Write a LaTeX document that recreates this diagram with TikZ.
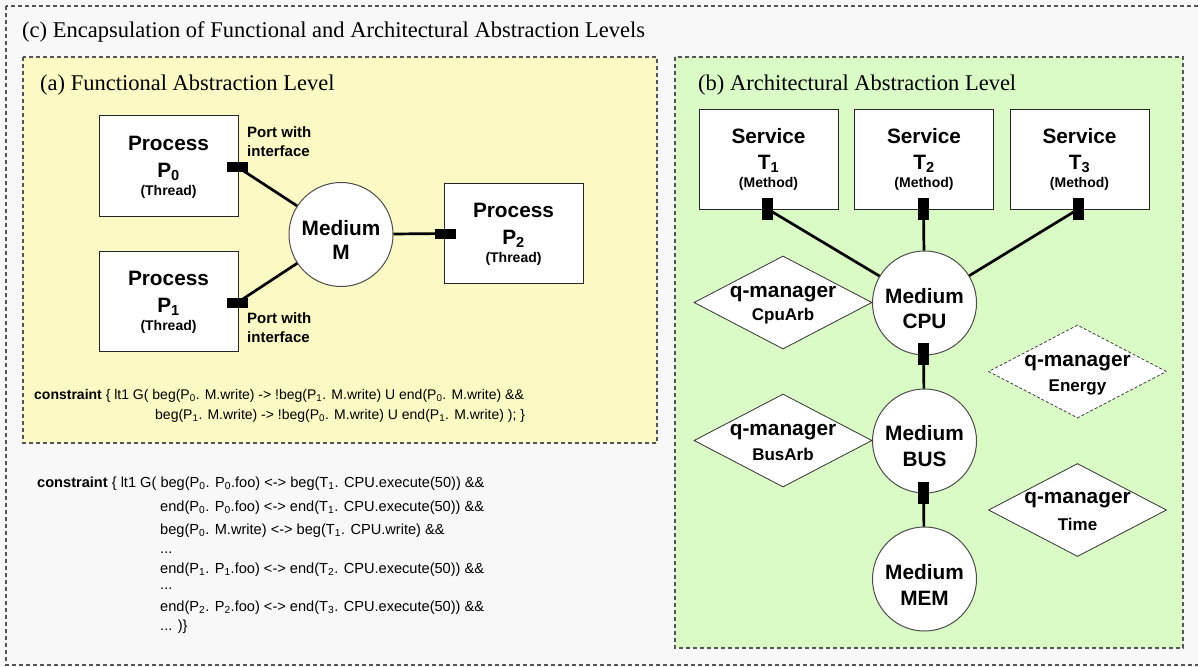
\documentclass[tikz,border=0pt]{standalone}
\usepackage{fontspec}
\setmainfont{Liberation Serif}
\setsansfont{Liberation Sans}
\usetikzlibrary{shapes.geometric}
\definecolor{bgc}{HTML}{F8F8F8}
\definecolor{yel}{HTML}{FBFAC5}
\definecolor{grn}{HTML}{DAFAC6}
\definecolor{dashc}{HTML}{555555}
\newcommand\sbs[1]{\textsubscript{#1}}
\tikzset{
  frame/.style={draw=dashc, line width=1.1pt, dash pattern=on 4pt off 3pt},
  ttl/.style={font=\fontsize{22.5}{24}\selectfont, anchor=west, inner sep=0},
  box/.style={rectangle, draw=black!85, fill=white, line width=1pt, minimum width=139pt, minimum height=100pt, inner sep=0},
  circ/.style={circle, draw=black!70, fill=white, line width=1pt, minimum size=104pt, inner sep=0},
  qm/.style={diamond, draw=black!80, fill=white, line width=0.8pt, minimum width=178pt, minimum height=93pt, inner sep=0},
  qmd/.style={qm, draw=black!75, dash pattern=on 3pt off 2pt},
  hport/.style={rectangle, fill=black, inner sep=0, minimum width=21pt, minimum height=10pt},
  vport/.style={rectangle, fill=black, inner sep=0, minimum width=11pt, minimum height=22pt},
  conn/.style={line width=2.7pt, black},
  big/.style={font=\sffamily\bfseries\fontsize{20.8}{22}\selectfont, inner sep=0},
  small/.style={font=\sffamily\bfseries\fontsize{14}{16}\selectfont, inner sep=0},
  mid/.style={font=\sffamily\bfseries\fontsize{17}{19}\selectfont, inner sep=0},
  plbl/.style={font=\sffamily\bfseries\fontsize{15}{19}\selectfont, inner sep=0, anchor=west, align=left},
  code/.style={font=\sffamily\fontsize{14.6}{17}\selectfont, inner sep=0, anchor=base west},
  codea/.style={code, font=\sffamily\fontsize{14}{17}\selectfont},
}
\begin{document}
\begin{tikzpicture}[x=1pt,y=-1pt]
\useasboundingbox (0,0) rectangle (1198,666);
\clip (0,0) rectangle (1198,666);
\fill[bgc] (0,0) rectangle (1198,666);
% frames
\draw[frame] (6,6) rectangle (1210,665);
\draw[frame, fill=yel] (23,57) rectangle (657,443);
\draw[frame, fill=grn] (675,57) rectangle (1183,648);
\node[ttl] (tc) at (22,32) {(c) Encapsulation of Functional and Architectural Abstraction Levels};
\node[ttl] (ta) at (40,85) {(a) Functional Abstraction Level};
\node[ttl] (tb) at (698,85) {(b) Architectural Abstraction Level};

% (a) functional level
\node[box] (p0) at (168.5,166) {};
\node[big] (p0a) at ([yshift=23pt]p0.center) {Process};
\node[big] (p0b) at ([yshift=-6pt]p0.center) {P\sbs{0}};
\node[small] (p0c) at ([yshift=-26pt]p0.center) {(Thread)};
\node[box] (p1) at (168.5,301) {};
\node[big] (p1a) at ([yshift=23pt]p1.center) {Process};
\node[big] (p1b) at ([yshift=-6pt]p1.center) {P\sbs{1}};
\node[small] (p1c) at ([yshift=-26pt]p1.center) {(Thread)};
\node[box] (p2) at (513.5,233) {};
\node[big] (p2a) at ([yshift=23pt]p2.center) {Process};
\node[big] (p2b) at ([yshift=-6pt]p2.center) {P\sbs{2}};
\node[small] (p2c) at ([yshift=-26pt]p2.center) {(Thread)};

\node[circ] (m) at (341,234.5) {};
\node[big] (ma) at ([yshift=6.5pt]m.center) {Medium};
\node[big] (mb) at ([yshift=-17.5pt]m.center) {M};

\node[hport] (pp0) at (237.5,167) {};
\node[hport] (pp1) at (237.5,302.5) {};
\node[hport] (pp2) at (445,233.5) {};
\draw[conn] (pp0.center) -- (m);
\draw[conn] (pp1.center) -- (m);
\draw[conn] (pp2.center) -- (m);

\node[plbl] (l0) at (247,141.5) {Port with\\interface};
\node[plbl] (l1) at (247,327.5) {Port with\\interface};

\node[codea] (ca1) at (34,399.5) {\textbf{constraint} \{ lt1 G( beg(P\sbs{0}. M.write) -> !beg(P\sbs{1}. M.write) U end(P\sbs{0}. M.write) \&\&};
\node[codea] (ca2) at (155,419.5) {beg(P\sbs{1}. M.write) -> !beg(P\sbs{0}. M.write) U end(P\sbs{1}. M.write) ); \}};

% mapping constraint
\node[code] (cb1) at (37,487.5) {\textbf{constraint} \{ lt1 G( beg(P\sbs{0}. P\sbs{0}.foo) <-> beg(T\sbs{1}. CPU.execute(50)) \&\&};
\node[code] (cb2) at (160,511) {end(P\sbs{0}. P\sbs{0}.foo) <-> end(T\sbs{1}. CPU.execute(50)) \&\&};
\node[code] (cb3) at (160,534.5) {beg(P\sbs{0}. M.write) <-> beg(T\sbs{1}. CPU.write) \&\&};
\node[code] (cb4) at (160,553) {...};
\node[code] (cb5) at (160,573.5) {end(P\sbs{1}. P\sbs{1}.foo) <-> end(T\sbs{2}. CPU.execute(50)) \&\&};
\node[code] (cb6) at (160,589.5) {...};
\node[code] (cb7) at (160,611) {end(P\sbs{2}. P\sbs{2}.foo) <-> end(T\sbs{3}. CPU.execute(50)) \&\&};
\node[code] (cb8) at (160,630.5) {... )\}};

% (b) architectural level
\foreach \i/\x in {1/768.5,2/924,3/1079.5}{
  \node[box] (t\i) at (\x,159.5) {};
  \node[big] (t\i a) at ([yshift=23.5pt]t\i.center) {Service};
  \node[big] (t\i b) at ([yshift=-4pt]t\i.center) {T\sbs{\i}};
  \node[small] (t\i c) at ([yshift=-24.5pt]t\i.center) {(Method)};
}
\node[circ] (cpu) at (924.5,303) {};
\node[big] (cpua) at ([yshift=7pt]cpu.center) {Medium};
\node[big] (cpub) at ([yshift=-18pt]cpu.center) {CPU};
\node[circ] (bus) at (924.5,441) {};
\node[big] (busa) at ([yshift=8pt]bus.center) {Medium};
\node[big] (busb) at ([yshift=-18pt]bus.center) {BUS};
\node[circ] (mem) at (924.5,579) {};
\node[big] (mema) at ([yshift=7pt]mem.center) {Medium};
\node[big] (memb) at ([yshift=-19pt]mem.center) {MEM};

\node[vport] (tp1) at (767.5,209) {};
\node[vport] (tp2) at (923.5,209) {};
\node[vport] (tp3) at (1078.5,209) {};
\node[vport] (cpup) at (923.5,354) {};
\node[vport] (busp) at (923.5,492.5) {};
\draw[conn] (tp1.center) -- (cpu);
\draw[conn] (tp2.center) -- (cpu);
\draw[conn] (tp3.center) -- (cpu);
\draw[conn] (cpup.center) -- (bus);
\draw[conn] (busp.center) -- (mem);

\node[qm] (qcpu) at (783,302.5) {};
\node[big] (qcpua) at ([yshift=8.5pt]qcpu.center) {q-manager};
\node[mid] (qcpub) at ([yshift=-13.5pt]qcpu.center) {CpuArb};
\node[qm] (qbus) at (783,440.5) {};
\node[big] (qbusa) at ([yshift=8.5pt]qbus.center) {q-manager};
\node[mid] (qbusb) at ([yshift=-13.5pt]qbus.center) {BusArb};
\node[qmd] (qen) at (1077.5,371.5) {};
\node[big] (qena) at ([yshift=8.5pt]qen.center) {q-manager};
\node[mid] (qenb) at ([yshift=-15.5pt]qen.center) {Energy};
\node[qm] (qti) at (1077.5,510) {};
\node[big] (qtia) at ([yshift=10pt]qti.center) {q-manager};
\node[mid] (qtib) at ([yshift=-14pt]qti.center) {Time};
\end{tikzpicture}
\end{document}
